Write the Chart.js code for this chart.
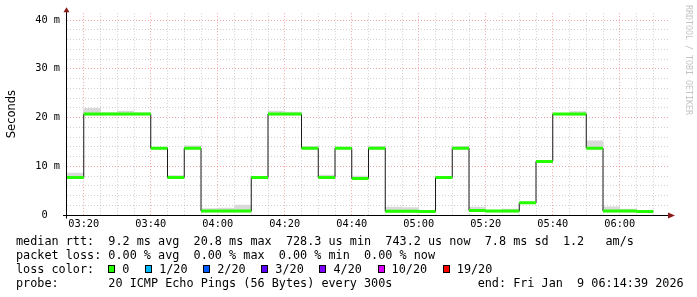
<!DOCTYPE html>
<html>
<head>
<meta charset="utf-8">
<script src="https://cdn.jsdelivr.net/npm/chart.js@4.4.1/dist/chart.umd.min.js"></script>
<style>
  html, body { margin: 0; padding: 0; background: #fff; }
  #wrap { position: relative; width: 697px; height: 297px; overflow: hidden; }
  #chart { position: absolute; left: 0; top: 0; }
  .row { position: absolute; left: 16px; margin: 0; font: 11.8px 'DejaVu Sans Mono', monospace; line-height: 14px; white-space: pre; color: #000; }
  .sq { display: inline-block; width: 7px; height: 8px; border: 1px solid #000; box-sizing: border-box; margin-right: 7px; }
  .gap { display: inline-block; width: 15.7px; }
</style>
</head>
<body>
<div id="wrap">
  <canvas id="chart" width="697" height="297"></canvas>
  <div class="row" style="top:234px">median rtt:  9.2 ms avg  20.8 ms max  728.3 us min  743.2 us now  7.8 ms sd  1.2   am/s</div>
  <div class="row" style="top:248px">packet loss: 0.00 % avg  0.00 % max  0.00 % min  0.00 % now</div>
  <div class="row" id="lossRow" style="top:262px">loss color:  </div>
  <div class="row" style="top:276px">probe:       20 ICMP Echo Pings (56 Bytes) every 300s            end: Fri Jan  9 06:14:39 2026</div>
</div>
<script>
// 5 minute intervals (start time of each step)
const intervals = ['03:15', '03:20', '03:25', '03:30', '03:35', '03:40', '03:45', '03:50', '03:55',
    '04:00', '04:05', '04:10', '04:15', '04:20', '04:25', '04:30', '04:35', '04:40', '04:45', '04:50', '04:55',
    '05:00', '05:05', '05:10', '05:15', '05:20', '05:25', '05:30', '05:35', '05:40', '05:45', '05:50', '05:55',
    '06:00', '06:05'];

// median rtt in ms
const medianRtt = [7.7, 20.7, 20.7, 20.7, 20.7, 13.7, 7.7, 13.7, 0.8,
    0.8, 0.8, 7.7, 20.7, 20.7, 13.7, 7.7, 13.7, 7.5, 13.7, 0.75, 0.75,
    0.73, 7.7, 13.7, 0.9, 0.8, 0.8, 2.5, 11.0, 20.7, 20.7, 13.7, 0.8,
    0.8, 0.74];

// top of the smoke (max rtt) in ms
const maxRtt = [8.6, 21.9, 21.0, 21.3, 21.0, 13.9, 8.1, 14.2, 1.3,
    1.4, 2.05, 7.9, 21.3, 21.1, 14.1, 8.2, 13.9, 8.0, 14.1, 1.6, 1.5,
    0.95, 7.9, 14.1, 1.6, 1.0, 1.2, 2.6, 11.2, 20.8, 21.2, 15.2, 1.7,
    1.2, 0.9];

const xStart = '03:15';
const xEnd = '06:15';
const xTickLabels = ['03:20', '03:40', '04:00', '04:20', '04:40', '05:00', '05:20', '05:40', '06:00'];
const yTickLabels = ['0', '10 m', '20 m', '30 m', '40 m'];
const yTickValues = [0, 10, 20, 30, 40];

const lossLabels = ['0', '1/20', '2/20', '3/20', '4/20', '10/20', '19/20'];
const lossColors = ['#26ff00', '#00b8ff', '#0059ff', '#5e00ff', '#7e00ff', '#dd00ff', '#ff0000'];

const STEP = 5;
const toMin = (s) => {
    const [h, m] = s.split(':').map(Number);
    return h * 60 + m;
};
const starts = intervals.map(toMin);

// loss color legend
const lossRow = document.getElementById('lossRow');
lossLabels.forEach((label, i) => {
    if (i > 0) {
        const gap = document.createElement('span');
        gap.className = 'gap';
        lossRow.appendChild(gap);
    }
    const sq = document.createElement('span');
    sq.className = 'sq';
    sq.style.background = lossColors[i];
    lossRow.appendChild(sq);
    lossRow.appendChild(document.createTextNode(label));
});

const smokeData = starts.map((t, i) => ({ x: t + STEP / 2, y: [medianRtt[i] - 0.2, maxRtt[i]] }));
const stepData = starts.map((t, i) => ({ x: t, y: medianRtt[i] }));
stepData.push({ x: starts[starts.length - 1] + STEP, y: medianRtt[medianRtt.length - 1] });
const medianData = starts.flatMap((t, i) => [
    { x: t, y: medianRtt[i] },
    { x: t + STEP, y: medianRtt[i] },
    { x: t + STEP, y: null }
]);

const monoTick = { family: "'DejaVu Sans Mono', monospace", size: 10.3 };
const minorGrid = 'rgba(150,150,150,0.45)';
const majorGrid = 'rgba(230,90,90,0.55)';

// axes with arrows + watermark
const rrdDecor = {
    id: 'rrdDecor',
    afterDraw(chart) {
        const { ctx, chartArea: a } = chart;
        const y0 = Math.round(chart.scales.y.getPixelForValue(0)) + 0.5;
        const x0 = Math.round(a.left) - 0.5;
        ctx.save();
        ctx.strokeStyle = '#000';
        ctx.lineWidth = 1;
        ctx.beginPath();
        ctx.moveTo(a.left - 4, y0);
        ctx.lineTo(a.right - 2, y0);
        ctx.moveTo(x0, y0 + 3);
        ctx.lineTo(x0, a.top - 2);
        ctx.stroke();

        ctx.fillStyle = '#8b1a1a';
        ctx.beginPath();
        ctx.moveTo(a.right - 2, y0 - 3);
        ctx.lineTo(a.right + 5, y0);
        ctx.lineTo(a.right - 2, y0 + 3);
        ctx.closePath();
        ctx.fill();
        ctx.beginPath();
        ctx.moveTo(x0 - 3, a.top - 1);
        ctx.lineTo(x0, a.top - 6);
        ctx.lineTo(x0 + 3, a.top - 1);
        ctx.closePath();
        ctx.fill();

        ctx.translate(688, 5);
        ctx.rotate(Math.PI / 2);
        ctx.fillStyle = '#c4c4c4';
        ctx.font = "8.3px 'DejaVu Sans Mono', monospace";
        ctx.textBaseline = 'middle';
        ctx.fillText('RRDTOOL / TOBI OETIKER', 0, 0);
        ctx.restore();
    }
};

new Chart(document.getElementById('chart'), {
    type: 'line',
    data: {
        datasets: [{
            type: 'bar',
            data: smokeData,
            backgroundColor: '#d9d9d9',
            borderWidth: 0,
            barPercentage: 1,
            categoryPercentage: 1,
            order: 2
        }, {
            type: 'line',
            data: stepData,
            stepped: true,
            borderColor: '#1a1a1a',
            borderWidth: 1,
            pointRadius: 0,
            fill: false,
            order: 1
        }, {
            type: 'line',
            data: medianData,
            borderColor: '#26ff00',
            borderWidth: 3,
            borderCapStyle: 'butt',
            pointRadius: 0,
            spanGaps: false,
            fill: false,
            order: 0
        }]
    },
    options: {
        responsive: false,
        animation: false,
        devicePixelRatio: 1,
        layout: { padding: { top: 13, right: 27, left: 0, bottom: 0 } },
        plugins: { legend: { display: false }, tooltip: { enabled: false } },
        scales: {
            x: {
                type: 'linear',
                offset: false,
                min: toMin(xStart),
                max: toMin(xEnd),
                afterFit: (s) => { s.height = 82; },
                border: { display: false, dash: [1, 2] },
                grid: {
                    offset: false,
                    drawTicks: false,
                    color: (c) => {
                        const v = c.tick.value;
                        if (v <= toMin(xStart) || v >= toMin(xEnd)) return 'rgba(0,0,0,0)';
                        return v % 20 === 0 ? majorGrid : minorGrid;
                    }
                },
                ticks: {
                    stepSize: STEP,
                    autoSkip: false,
                    maxRotation: 0,
                    padding: 3,
                    color: '#000',
                    font: monoTick,
                    callback: (v) => xTickLabels.find((l) => toMin(l) === v) || ''
                }
            },
            y: {
                min: 0,
                max: 41.4,
                afterFit: (s) => { s.width = 67; },
                border: { display: false, dash: [1, 2] },
                grid: {
                    drawTicks: false,
                    color: (c) => {
                        const v = c.tick.value;
                        if (v === 0) return 'rgba(0,0,0,0)';
                        return v % 10 === 0 ? majorGrid : minorGrid;
                    }
                },
                title: {
                    display: true,
                    text: 'Seconds',
                    color: '#000',
                    font: { family: "'DejaVu Sans', sans-serif", size: 11.5 },
                    padding: { top: 5, bottom: 0 }
                },
                ticks: {
                    stepSize: 2,
                    includeBounds: false,
                    autoSkip: false,
                    padding: 7,
                    color: '#000',
                    font: monoTick,
                    callback: (v) => {
                        const i = yTickValues.indexOf(v);
                        if (i < 0) return '';
                        const l = yTickLabels[i];
                        return l.includes(' ') ? l : ' ' + l + '  ';
                    }
                }
            }
        }
    },
    plugins: [rrdDecor]
});
</script>
</body>
</html>
